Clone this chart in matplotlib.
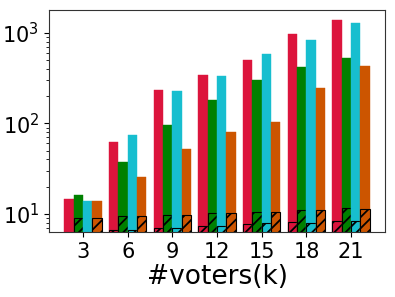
import numpy as np
import matplotlib
matplotlib.use("Agg")
import matplotlib.pyplot as plt

# data
voters = ["3", "6", "9", "12", "15", "18", "21"]
colors = ["#dc143c", "#008000", "#17becf", "#cc5500"]

# total heights per series
red_tot = [14.6, 62, 236, 346, 499, 975, 1393]
green_tot = [16.1, 37.3, 95.5, 180, 303, 421, 530]
cyan_tot = [13.8, 74, 227, 332, 582, 830, 1279]
orange_tot = [13.8, 25.4, 52.6, 80.5, 103, 245, 428]

# hatched lower part per series
red_low = [6.0, 6.66, 7.0, 7.4, 7.8, 8.1, 8.4]
green_low = [9.1, 9.5, 9.8, 10.2, 10.5, 11.0, 11.6]
cyan_low = [6.0, 6.6, 7.0, 7.3, 7.9, 7.95, 8.4]
orange_low = [9.1, 9.5, 9.8, 10.3, 10.6, 11.0, 11.3]

totals = [red_tot, green_tot, cyan_tot, orange_tot]
lows = [red_low, green_low, cyan_low, orange_low]

plt.rcParams["hatch.linewidth"] = 1.3

fig = plt.figure(figsize=(3.95, 2.97), dpi=100)
ax = fig.add_axes([0.124, 0.219, 0.851, 0.747])

x = np.arange(len(voters))
w = 0.21
for i in range(4):
    pos = x + (i - 1.5) * w
    ax.bar(pos, totals[i], w, color=colors[i], edgecolor=colors[i], linewidth=0.3)
    ax.bar(pos, lows[i], w, color=colors[i], edgecolor="black", hatch="///", linewidth=0.8)

ax.set_yscale("log")
ax.set_ylim(6.3, 1795)
ax.set_xticks(x)
ax.set_xticklabels(voters)
ax.tick_params(axis="both", labelsize=15)
ax.set_xlabel("#voters(k)", fontsize=19, labelpad=2)
for s in ax.spines.values():
    s.set_color("#333333")

plt.savefig("out.png", dpi=100)
